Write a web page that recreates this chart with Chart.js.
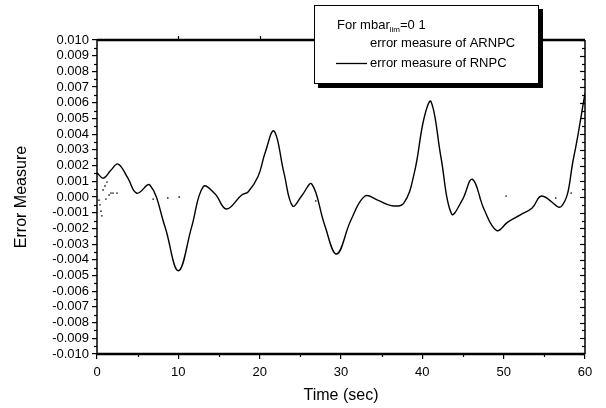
<!DOCTYPE html>
<html>
<head>
<meta charset="utf-8">
<script src="https://cdn.jsdelivr.net/npm/chart.js@4/dist/chart.umd.min.js"></script>
<style>
  html, body { margin: 0; padding: 0; background: #fff; }
  #wrap { width: 606px; height: 408px; }
</style>
</head>
<body>
<div id="wrap"><canvas id="errorChart" width="606" height="408"></canvas></div>
<script>
// datos
const tiempos = [0, 0.78, 1.7, 2.6, 3.8, 4.9, 6.5, 8.36, 10.0, 11.64, 13.07, 14.5, 15.9, 17.8, 18.6, 19.8, 20.66, 21.76, 23.0, 24.06,
  25.2, 26.4, 28.0, 29.47, 31.2, 32.95, 34.5, 36.2, 37.7, 39.0, 40.2, 41.07, 42.3, 43.6, 44.9, 46.15, 47.6, 49.15, 50.5, 52.0,
  53.5, 54.67, 57.1, 58.6, 60];
const errorRNPC = [0.00155, 0.0012, 0.0017, 0.0021, 0.0012, 0.00024, 0.00076, -0.0019, -0.0047, -0.0019, 0.00066, 0.0002, -0.00076, 0.00013, 0.00034, 0.0013, 0.0028, 0.0042, 0.0015, -0.00057,
  0.0001, 0.00083, -0.0018, -0.00363, -0.0015, 0.00006, -0.0002, -0.00055, -0.0004, 0.0015, 0.005, 0.00607, 0.0025, -0.00108, -0.0002, 0.00113, -0.0008, -0.00214, -0.0016, -0.00115,
  -0.0007, 0.00006, -0.0006, 0.0025, 0.0066];

const tiemposARNPC = [0.25, 0.37, 0.49, 0.6, 0.74, 0.98, 1.1, 1.23, 1.48, 1.72, 1.97, 2.46, 6.9, 8.7, 10.1, 26.9, 47.1, 50.3, 56.4, 58.3];
const errorARNPC = [-0.0002, -0.0005, -0.0009, -0.0012, 0.00045, 0.0007, -0.00013, 0.00095, 0.00013, 0.00025, 0.00025, 0.00025,
  -0.00013, -0.00006, 0, -0.00025, -0.00006, 0.00006, -0.00006, 0.00025];

const ticksX = [0, 10, 20, 30, 40, 50, 60];
const FUENTE = "'Liberation Sans', Arial, sans-serif";

// marco, ticks menores y leyenda
const marcoPlugin = {
  id: 'marco',
  afterDraw(chart) {
    const ctx = chart.ctx;
    const a = chart.chartArea;
    const sx = chart.scales.x, sy = chart.scales.y;
    ctx.save();
    ctx.strokeStyle = '#000';
    ctx.lineWidth = 1.2;
    // ticks menores en Y (izquierda)
    for (let v = -0.0095; v < 0.01; v += 0.001) {
      const py = Math.round(sy.getPixelForValue(v)) + 0.5;
      ctx.beginPath(); ctx.moveTo(a.left - 3, py); ctx.lineTo(a.left, py); ctx.stroke();
    }
    // ticks en eje derecho (hacia dentro)
    for (let v = -0.01; v <= 0.01001; v += 0.0005) {
      const py = Math.round(sy.getPixelForValue(v)) + 0.5;
      const len = Math.abs(Math.round(v * 10000)) % 10 === 0 ? 5 : 3;
      ctx.beginPath(); ctx.moveTo(a.right - len, py); ctx.lineTo(a.right, py); ctx.stroke();
    }
    // ticks menores en X
    for (let t = 5; t < 60; t += 10) {
      const px = Math.round(sx.getPixelForValue(t)) + 0.5;
      ctx.beginPath(); ctx.moveTo(px, a.bottom); ctx.lineTo(px, a.bottom + 3); ctx.stroke();
    }
    // ticks en eje superior
    for (let t = 10; t < 60; t += 10) {
      const px = Math.round(sx.getPixelForValue(t)) + 0.5;
      ctx.beginPath(); ctx.moveTo(px, a.top); ctx.lineTo(px, a.top - 4); ctx.stroke();
    }
    // marco
    ctx.lineWidth = 1.5;
    ctx.beginPath(); ctx.moveTo(a.left, a.top); ctx.lineTo(a.left, a.bottom); ctx.stroke();
    ctx.beginPath(); ctx.moveTo(a.right, a.top); ctx.lineTo(a.right, a.bottom); ctx.stroke();
    ctx.lineWidth = 2.5;
    ctx.beginPath(); ctx.moveTo(a.left, a.top); ctx.lineTo(a.right, a.top); ctx.stroke();
    ctx.beginPath(); ctx.moveTo(a.left, a.bottom); ctx.lineTo(a.right, a.bottom); ctx.stroke();

    // leyenda
    const lx = 314, ly = 5, lw = 224, lh = 78;
    ctx.fillStyle = '#000';
    ctx.fillRect(lx + 4, ly + 4, lw + 1, lh + 1);
    ctx.fillStyle = '#fff';
    ctx.fillRect(lx, ly, lw, lh);
    ctx.lineWidth = 1;
    ctx.strokeRect(lx + 0.5, ly + 0.5, lw, lh);
    ctx.fillStyle = '#000';
    ctx.textBaseline = 'middle';
    ctx.textAlign = 'left';
    ctx.font = '13px ' + FUENTE;
    const t1 = 'For mbar';
    ctx.fillText(t1, 337, 25);
    let w = ctx.measureText(t1).width;
    ctx.font = '8px ' + FUENTE;
    ctx.fillText('lim', 337 + w, 30);
    const w2 = ctx.measureText('lim').width;
    ctx.font = '13px ' + FUENTE;
    ctx.fillText('=0 1', 337 + w + w2, 25);
    ctx.fillText('error measure of ARNPC', 370, 43);
    ctx.fillText('error measure of RNPC', 370, 63);
    ctx.lineWidth = 1.3;
    ctx.beginPath(); ctx.moveTo(336, 63.5); ctx.lineTo(367, 63.5); ctx.stroke();
    ctx.restore();
  }
};

new Chart(document.getElementById('errorChart'), {
  type: 'line',
  data: {
    datasets: [
      {
        label: 'error measure of ARNPC',
        data: tiemposARNPC.map((t, i) => ({ x: t, y: errorARNPC[i] })),
        showLine: false,
        pointRadius: 0.9,
        pointBackgroundColor: '#333',
        pointBorderWidth: 0
      },
      {
        label: 'error measure of RNPC',
        data: tiempos.map((t, i) => ({ x: t, y: errorRNPC[i] })),
        borderColor: '#000',
        borderWidth: 1.4,
        pointRadius: 0,
        tension: 0.4,
        fill: false
      }
    ]
  },
  options: {
    responsive: false,
    animation: false,
    devicePixelRatio: 1,
    layout: { padding: { top: 40, right: 21, left: 0, bottom: 0 } },
    plugins: { legend: { display: false }, tooltip: { enabled: false } },
    scales: {
      x: {
        type: 'linear',
        min: 0,
        max: 60,
        afterFit(scale) { scale.height = 54; },
        afterBuildTicks(scale) { scale.ticks = ticksX.map(v => ({ value: v })); },
        grid: { drawOnChartArea: false, drawTicks: true, tickLength: 5, color: '#000', lineWidth: 1.2 },
        border: { display: false },
        ticks: { color: '#000', font: { family: FUENTE, size: 13 }, padding: 6, maxRotation: 0 },
        title: { display: true, text: 'Time (sec)', color: '#000', font: { family: FUENTE, size: 16 }, padding: { top: 0, bottom: 3 } }
      },
      y: {
        min: -0.01,
        max: 0.01,
        afterFit(scale) { scale.width = 97; },
        grid: { drawOnChartArea: false, drawTicks: true, tickLength: 5, color: '#000', lineWidth: 1.2 },
        border: { display: false },
        ticks: {
          stepSize: 0.001,
          autoSkip: false,
          color: '#000',
          font: { family: FUENTE, size: 13 },
          padding: 3,
          callback: v => v.toFixed(3)
        },
        title: { display: true, text: 'Error Measure', color: '#000', font: { family: FUENTE, size: 16 }, padding: { top: 12, bottom: 0 } }
      }
    }
  },
  plugins: [marcoPlugin]
});
</script>
</body>
</html>
